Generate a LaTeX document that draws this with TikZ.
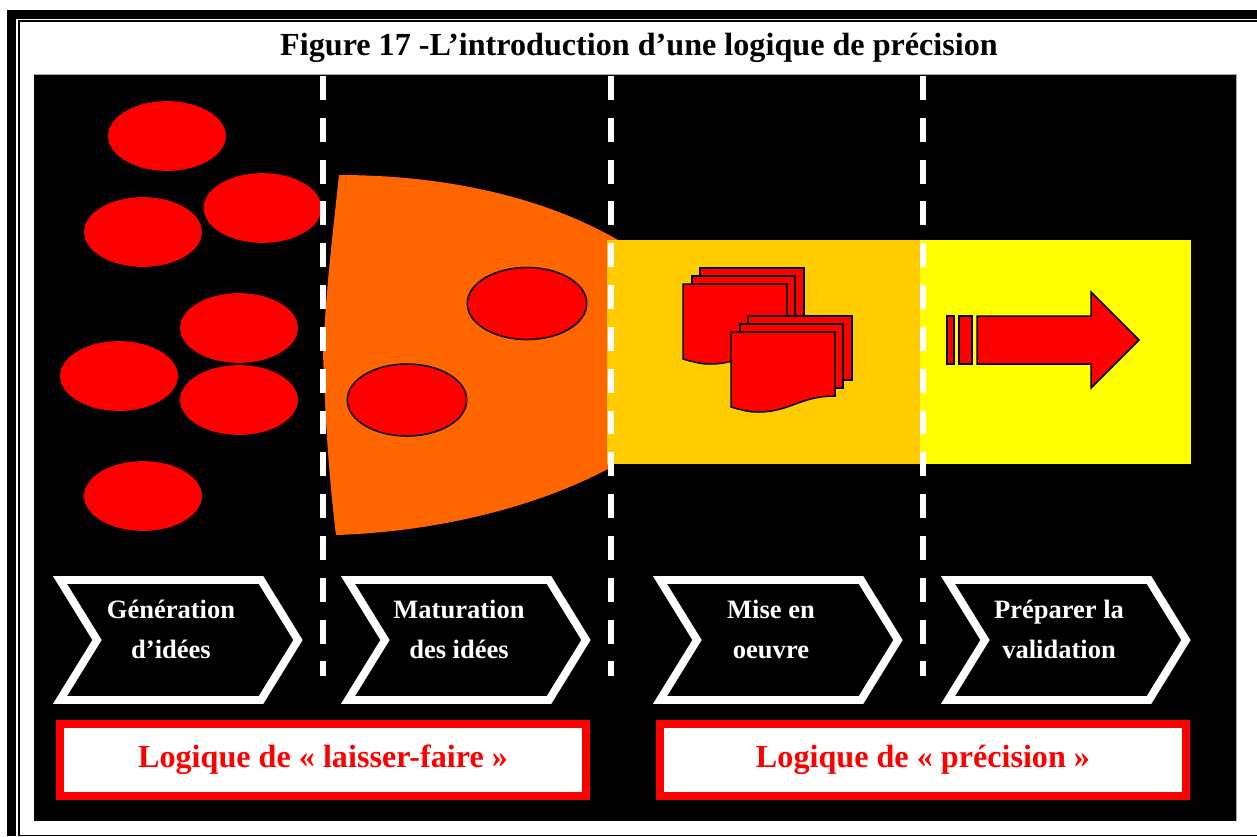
\documentclass[tikz,border=0pt]{standalone}
\usepackage{fontspec}
\usetikzlibrary{shapes.geometric}
\setmainfont{Liberation Serif}
\definecolor{funnelorange}{HTML}{FF6600}
\definecolor{stepgold}{HTML}{FFCC00}
\definecolor{stepyellow}{HTML}{FFFF00}
\definecolor{ideared}{HTML}{FF0000}

\begin{document}
\begin{tikzpicture}[x=0.02cm,y=0.02cm]
        \tikzstyle{every node}+=[inner sep=0pt]
        \tikzstyle{cutline}=[white, line width=3.8pt, dash pattern=on 13.6pt off 10.2pt]
        \tikzstyle{idea}=[ellipse, fill=ideared, minimum width=67pt, minimum height=39.7pt]
        \tikzstyle{ideain}=[ellipse, draw=black, fill=ideared, line width=0.85pt, minimum width=68pt, minimum height=41pt]
        \tikzstyle{redpart}=[draw=black, fill=ideared, line width=0.85pt]
        \tikzstyle{stepshape}=[white, line width=4.5pt, miter limit=10]
        \tikzstyle{steptext}=[white, align=center, font=\fontsize{15.1}{22.8}\selectfont\bfseries]
        \tikzstyle{logicbox}=[draw=ideared, fill=white, line width=4.5pt, minimum width=299.8pt, minimum height=40.8pt,
                text=ideared, font=\fontsize{18.3}{22}\selectfont\bfseries]
        \useasboundingbox (0,0) rectangle (1257,-836);
        \fill [white] (0,0) rectangle (1257,-836);
        \fill [black] (7,-10) rectangle (1257,-19);
        \fill [black] (7,-10) rectangle (16,-836);
        \fill [black] (18,-20) rectangle (1257,-21.5);
        \fill [black] (18,-20) rectangle (20,-836);
        \fill [black] (18,-834.5) rectangle (1257,-836);
        \node (title) at (639,-47.5) [font=\fontsize{18.3}{22}\selectfont\bfseries] {Figure 17 -L’introduction d’une logique de précision};
        \fill [black!35] (34,-74) rectangle (1237,-821);
        \fill [black] (34,-75) rectangle (1236,-821);
        \fill [funnelorange] (339,-175) .. controls (440,-175) and (540,-195) .. (618,-240) -- (608,-469)
                .. controls (530,-510) and (430,-532) .. (336,-535) .. controls (328,-470) and (325,-410) .. (323,-353)
                .. controls (326,-290) and (332,-240) .. (339,-175) -- cycle;
        \fill [stepgold] (607,-240) rectangle (920,-464);
        \fill [stepyellow] (920,-240) rectangle (1191,-464);
        \node (a) at (167,-136) [idea] {};
        \node (b) at (143,-232) [idea] {};
        \node (c) at (262.5,-208) [idea] {};
        \node (d) at (239,-328) [idea] {};
        \node (e) at (119,-376) [idea] {};
        \node (f) at (239,-400) [idea] {};
        \node (g) at (143,-496) [idea] {};
        \node (h) at (527,-303.5) [ideain] {};
        \node (i) at (407,-400) [ideain] {};
        \foreach \off in {0,48} {
                \begin{scope}[shift={(\off,-\off)}]
                \draw [redpart] (700,-268) rectangle (804,-332);
                \draw [redpart] (692,-276) rectangle (795,-340);
                \draw [redpart] (683,-284) -- (787,-284) -- (787,-348) .. controls (752,-348) and (742,-364) .. (710,-364)
                        .. controls (702,-364) and (697,-363) .. (683,-359) -- cycle;
                \end{scope}
        }
        \draw [redpart] (947,-316) rectangle (954,-364);
        \draw [redpart] (959,-316) rectangle (972,-364);
        \draw [redpart] (977,-316) -- (1091,-316) -- (1091,-292) -- (1139,-340) -- (1091,-388) -- (1091,-364) -- (977,-364) -- cycle;
        \foreach \xcut in {323,611,923} {
                \draw [cutline] (\xcut,-76) -- (\xcut,-676);
        }
        \foreach \off/\nm/\txt in {0/gen/{Génération\\d’idées}, 288/mat/{Maturation\\des idées}, 600/mis/{Mise en\\oeuvre}, 888/pre/{Préparer la\\validation}} {
                \draw [stepshape] (60+\off,-580) -- (261+\off,-580) -- (298+\off,-640) -- (261+\off,-700) -- (60+\off,-700) -- (97+\off,-640) -- cycle;
                \node (\nm) at (171+\off,-629.5) [steptext] {\txt};
        }
        \node (laisser) at (323,-760) [logicbox] {Logique de « laisser-faire »};
        \node (precis) at (923,-760) [logicbox] {Logique de « précision »};
        \end{tikzpicture}
\end{document}
